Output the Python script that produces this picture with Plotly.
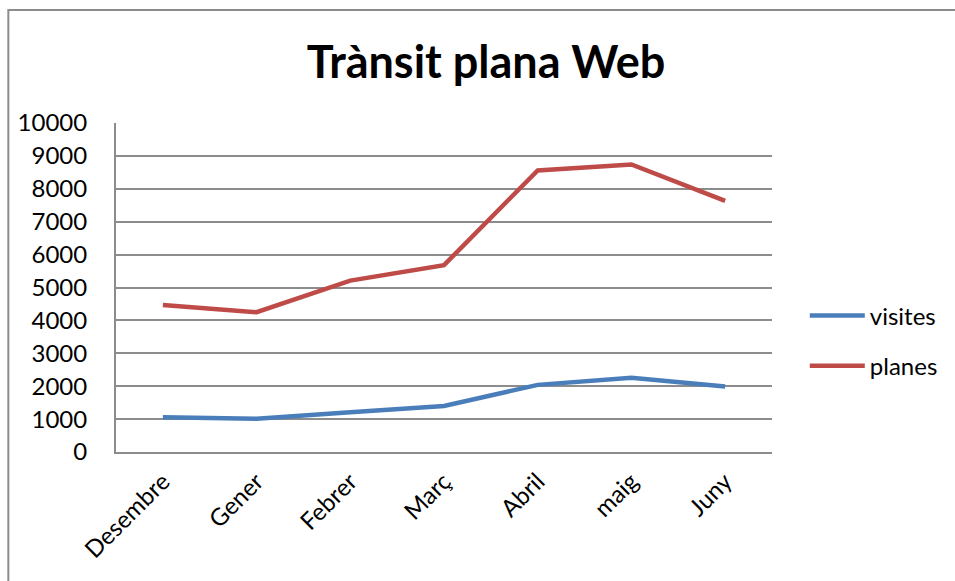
import plotly.graph_objects as go

# Monthly web traffic: visits and pages viewed
months = ["Desembre", "Gener", "Febrer", "Març", "Abril", "maig", "Juny"]
visites = [1060, 1010, 1210, 1400, 2040, 2260, 1990]
planes = [4470, 4250, 5210, 5680, 8560, 8740, 7630]
y_ticks = list(range(0, 10001, 1000))

FONT = "Lato, Carlito, Calibri, sans-serif"
GRID = "#8c8c8c"

fig = go.Figure()
fig.add_trace(go.Scatter(
    x=months, y=visites, name="visites", mode="lines",
    line=dict(color="#4A7EBB", width=4.5), legendgroup="a",
))
fig.add_trace(go.Scatter(
    x=months, y=planes, name="planes", mode="lines",
    line=dict(color="#BE4B48", width=4.5), legendgroup="b",
))

W, H = 955, 581
L, R, T, B = 116, 181, 123, 129

fig.update_layout(
    width=W, height=H,
    margin=dict(l=L, r=R, t=T, b=B),
    paper_bgcolor="white", plot_bgcolor="white",
    font=dict(family=FONT, size=24, color="black"),
    title=dict(
        text="<b>Trànsit plana Web</b>",
        x=486 / W, xanchor="center", xref="container",
        y=1 - 62 / H, yanchor="middle", yref="container",
        font=dict(family=FONT, size=45, color="black"),
    ),
    showlegend=True,
    legend=dict(
        x=1.05, xanchor="left", y=(452 - 341) / (H - T - B), yanchor="middle",
        font=dict(family=FONT, size=24),
        tracegroupgap=16, itemwidth=55,
        bgcolor="rgba(0,0,0,0)",
    ),
    xaxis=dict(
        type="category", categoryorder="array", categoryarray=months,
        range=[-0.5, len(months) - 0.5],
        showgrid=False, showline=True, linecolor=GRID, linewidth=2,
        tickangle=-45, ticks="", ticklabelstandoff=4,
        tickfont=dict(family=FONT, size=24),
        fixedrange=True,
    ),
    yaxis=dict(
        range=[0, 10000], tickvals=y_ticks,
        ticktext=[str(v) for v in y_ticks],
        showgrid=True, gridcolor=GRID, gridwidth=1.5,
        showline=True, linecolor=GRID, linewidth=2,
        zeroline=False, ticks="", ticklabelstandoff=22,
        tickfont=dict(family=FONT, size=24),
        fixedrange=True,
    ),
)

# Outer chart border
fig.add_shape(
    type="rect", xref="paper", yref="paper",
    x0=(8 - L) / (W - L - R), x1=(W + 20 - L) / (W - L - R),
    y0=-(H + 20 - (H - B)) / (H - T - B), y1=(H - 10 - B) / (H - T - B),
    line=dict(color="#8c8c8c", width=2), fillcolor="rgba(0,0,0,0)",
    layer="below",
)

fig.write_html("out.html")
